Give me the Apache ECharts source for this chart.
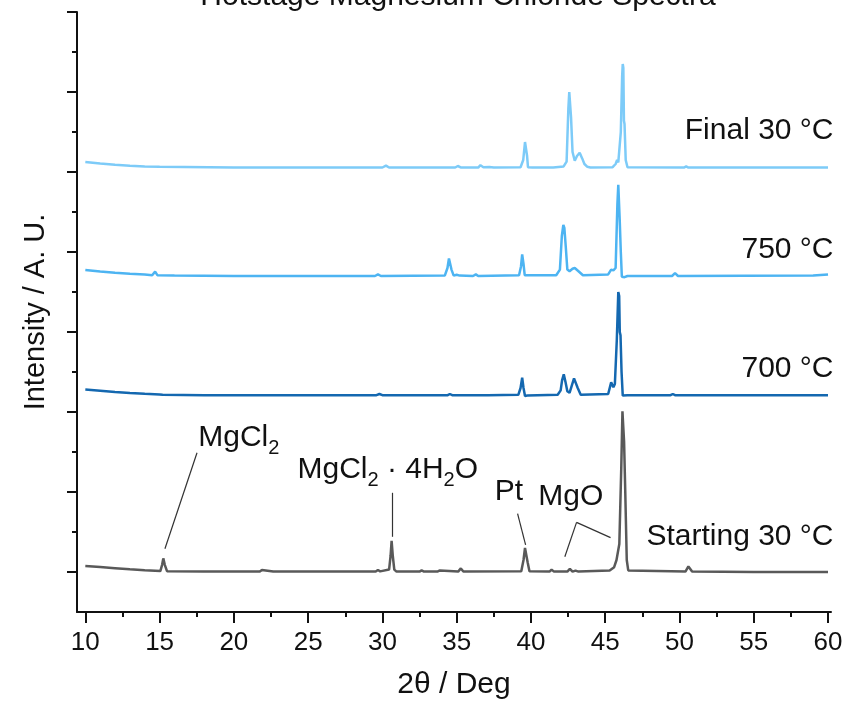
<!DOCTYPE html>
<html>
<head>
<meta charset="utf-8">
<script src="https://cdn.jsdelivr.net/npm/echarts@6/dist/echarts.min.js"></script>
<style>
html,body{margin:0;padding:0;background:#fff;}
#chart{width:849px;height:705px;}
</style>
</head>
<body>
<div id="chart"></div>
<script>
// ---- data (x = 2θ in degrees, y = offset intensity in arbitrary units) ----
var titleText = 'Hotstage Magnesium Chloride Spectra';
var xName = '2θ / Deg';
var yName = 'Intensity / A. U.';
var seriesNames = ['Starting 30 °C', '700 °C', '750 °C', 'Final 30 °C'];
var seriesColors = ['#595959', '#1468b0', '#4db4f2', '#7dcbf8'];

var xMajorTicks = [10, 15, 20, 25, 30, 35, 40, 45, 50, 55, 60];
var xMinorTicks = [12.5, 17.5, 22.5, 27.5, 32.5, 37.5, 42.5, 47.5, 52.5, 57.5];
var yMajorTicks = [0, 1, 2, 3, 4, 5, 6, 7];
var yMinorTicks = [0.5, 1.5, 2.5, 3.5, 4.5, 5.5, 6.5];

var startingData = [
  [10,0.075],[11,0.062],[12,0.048],[13,0.034],[14,0.022],[15.05,0.012],[15.17,0.09],[15.25,0.17],[15.35,0.09],[15.5,0.01],
  [18,0.005],[21.75,0.005],[21.89,0.025],[22.0,0.005],[22.65,0.005],[22.76,0.02],[22.9,0.005],
  [29.55,0.005],[29.7,0.025],[29.85,0.008],[30.45,0.03],[30.55,0.2],[30.62,0.39],[30.7,0.2],[30.8,0.03],[30.95,0.005],
  [32.5,0.005],[32.64,0.02],[32.8,0.005],[33.7,0.005],[33.87,0.02],[34.0,0.005],
  [35.1,0.005],[35.28,0.045],[35.45,0.005],
  [39.35,0.01],[39.5,0.15],[39.6,0.3],[39.68,0.31],[39.78,0.12],[39.9,0.01],
  [41.25,0.005],[41.39,0.03],[41.55,0.005],[42.45,0.005],[42.62,0.04],[42.8,0.005],[43.0,0.018],[43.2,0.005],
  [45.3,0.02],[45.6,0.06],[45.76,0.15],[45.95,0.35],[46.08,1.3],[46.16,2.01],[46.22,1.8],[46.27,1.63],[46.35,1.0],[46.45,0.15],[46.55,0.02],
  [50.4,0.005],[50.6,0.07],[50.85,0.005],[55,0.0],[60,0.0]
];

var data700 = [
  [10,2.28],[11,2.265],[12,2.25],[13,2.238],[14,2.228],[15.0,2.22],[15.1,2.235],[15.2,2.215],[18,2.21],
  [29.6,2.21],[29.8,2.225],[30.0,2.21],[34.4,2.21],[34.54,2.225],[34.7,2.21],
  [36.2,2.21],[36.29,2.22],[36.45,2.21],[36.85,2.21],[36.96,2.225],[37.1,2.21],
  [39.15,2.215],[39.3,2.3],[39.41,2.43],[39.5,2.3],[39.6,2.2],[39.75,2.205],
  [41.8,2.215],[42.0,2.27],[42.1,2.4],[42.21,2.47],[42.32,2.38],[42.45,2.26],[42.6,2.24],[42.75,2.33],[42.9,2.42],[43.0,2.41],[43.15,2.3],[43.35,2.215],
  [45.2,2.225],[45.4,2.37],[45.55,2.31],[45.65,2.35],[45.78,2.9],[45.88,3.5],[45.94,3.45],[45.98,3.0],[46.03,2.96],[46.1,2.5],[46.18,2.205],[46.3,2.2],[46.5,2.21],
  [49.4,2.21],[49.55,2.225],[49.7,2.21],[60,2.21]
];

var data750 = [
  [10,3.775],[11,3.755],[12,3.74],[13,3.728],[14,3.72],[14.5,3.71],[14.7,3.755],[14.85,3.71],[16,3.705],[20,3.7],
  [29.5,3.7],[29.7,3.72],[29.9,3.7],
  [34.2,3.705],[34.38,3.8],[34.48,3.92],[34.55,3.9],[34.65,3.78],[34.8,3.705],[35.0,3.715],[35.08,3.72],[35.2,3.705],
  [36.1,3.7],[36.29,3.72],[36.45,3.7],
  [39.2,3.71],[39.33,3.82],[39.41,3.97],[39.5,3.85],[39.58,3.71],[39.7,3.69],
  [41.7,3.71],[41.95,3.78],[42.08,4.2],[42.18,4.34],[42.25,4.3],[42.35,4.05],[42.45,3.78],[42.6,3.76],[42.8,3.79],[42.95,3.8],[43.2,3.76],[43.5,3.71],
  [45.2,3.72],[45.4,3.78],[45.55,3.77],[45.7,3.8],[45.82,4.6],[45.88,4.84],[45.93,4.82],[45.98,4.38],[46.05,4.0],[46.12,3.69],[46.3,3.685],[46.5,3.7],
  [49.5,3.7],[49.7,3.735],[49.9,3.7],[59.0,3.705],[60,3.72]
];

var finalData = [
  [10,5.125],[11,5.105],[12,5.09],[13,5.078],[14,5.07],[15,5.065],[20,5.056],[30.0,5.056],[30.24,5.08],[30.45,5.056],
  [34.9,5.056],[35.08,5.075],[35.3,5.056],[36.45,5.056],[36.6,5.085],[36.8,5.06],[37.2,5.062],[37.5,5.056],
  [39.3,5.06],[39.48,5.15],[39.6,5.375],[39.66,5.36],[39.74,5.2],[39.8,5.06],[39.9,5.045],[40.1,5.056],
  [41.5,5.056],[42.2,5.07],[42.4,5.13],[42.52,5.8],[42.58,6.0],[42.64,5.98],[42.7,5.68],[42.8,5.25],[42.95,5.14],[43.1,5.2],[43.28,5.24],[43.45,5.17],[43.6,5.1],[43.8,5.065],[44,5.056],
  [45.5,5.06],[45.7,5.1],[45.8,5.15],[45.88,5.12],[46.05,5.5],[46.14,6.2],[46.18,6.35],[46.22,6.3],[46.26,5.64],[46.3,5.6],[46.38,5.15],[46.5,5.06],
  [50.3,5.056],[50.45,5.07],[50.6,5.056],[55,5.056],[60,5.056]
];

// annotation connectors (data coordinates)
var annotationLines = [
  [[15.36, 0.29], [17.52, 1.49]],   // MgCl2
  [[30.63, 0.44], [30.63, 0.99]],   // MgCl2·4H2O
  [[39.64, 0.34], [39.10, 0.73]],   // Pt
  [[42.28, 0.19], [43.07, 0.62]],   // MgO left
  [[43.07, 0.62], [45.36, 0.43]]    // MgO right
];
// annotation labels: [text (rich), x, y, position]
var annotationLabels = [
  ['{n|MgCl}{s|2}', 17.6, 1.675, 'right'],
  ['{n|MgCl}{s|2}{n| · 4H}{s|2}{n|O}', 30.36, 1.275, 'inside'],
  ['{n|Pt}', 38.51, 1.0, 'inside'],
  ['{n|MgO}', 42.68, 0.94, 'inside']
];
// series name labels: y value of label centre
var seriesLabelY = [0.44, 2.54, 4.025, 5.51];

var FONT = "'Liberation Sans', Arial, sans-serif";
var chart = echarts.init(document.getElementById('chart'), null, {renderer: 'canvas'});

var allData = [startingData, data700, data750, finalData];

var series = allData.map(function (d, i) {
  return {
    name: seriesNames[i],
    type: 'line',
    data: d,
    showSymbol: false,
    symbol: 'none',
    lineStyle: {color: seriesColors[i], width: 2.5},
    z: 3 + i
  };
});

var richStyle = {
  n: {fontSize: 30, fontFamily: FONT, color: '#111', lineHeight: 40},
  s: {fontSize: 20, fontFamily: FONT, color: '#111', lineHeight: 20, verticalAlign: 'bottom'}
};

series[0].markLine = {
  silent: true,
  symbol: ['none', 'none'],
  label: {show: false},
  lineStyle: {color: '#333', width: 1.2, type: 'solid'},
  data: annotationLines.map(function (l) {
    return [{coord: l[0]}, {coord: l[1]}];
  })
};
series[0].markPoint = {
  silent: true,
  symbol: 'circle',
  symbolSize: 0,
  data: annotationLabels.map(function (a) {
    return {
      coord: [a[1], a[2]],
      label: {show: true, position: a[3], distance: 0, formatter: a[0], rich: richStyle}
    };
  })
};

series.forEach(function (s, i) {
  var item = {
    coord: [60.1, seriesLabelY[i]],
    label: {show: true, position: 'left', distance: 0, offset: [4, 0], formatter: '{n|' + seriesNames[i] + '}', rich: richStyle}
  };
  if (i === 0) {
    s.markPoint.data.push(item);
  } else {
    s.markPoint = {silent: true, symbol: 'circle', symbolSize: 0, data: [item]};
  }
});

var option = {
  animation: false,
  backgroundColor: '#fff',
  textStyle: {fontFamily: FONT},
  grid: {left: 77, right: 18, top: 12, bottom: 93, containLabel: false},
  graphic: [{
    type: 'text',
    x: 458, y: -3,
    style: {text: titleText, font: '30px ' + FONT, fill: '#111', textAlign: 'center', textVerticalAlign: 'middle'}
  }],
  xAxis: [{
    type: 'value', min: 9.44, max: 60.2,
    name: xName, nameLocation: 'middle', nameGap: 58,
    nameTextStyle: {fontSize: 30, color: '#111', fontFamily: FONT},
    axisLine: {show: true, onZero: false, lineStyle: {color: '#111', width: 2}},
    axisTick: {show: true, customValues: xMajorTicks, length: 11, lineStyle: {color: '#111', width: 2}},
    axisLabel: {show: true, customValues: xMajorTicks, margin: 18, fontSize: 26, color: '#111', fontFamily: FONT},
    splitLine: {show: false}
  }, {
    type: 'value', min: 9.44, max: 60.2, position: 'bottom',
    axisLine: {show: false, onZero: false},
    axisTick: {show: true, customValues: xMinorTicks, length: 5, lineStyle: {color: '#111', width: 2}},
    axisLabel: {show: false},
    splitLine: {show: false}
  }],
  yAxis: [{
    type: 'value', min: -0.5, max: 7, position: 'left',
    name: yName, nameLocation: 'middle', nameGap: 27,
    nameTextStyle: {fontSize: 29, color: '#111', fontFamily: FONT},
    axisLine: {show: true, onZero: false, lineStyle: {color: '#111', width: 2}},
    axisTick: {show: true, customValues: yMajorTicks, length: 10, lineStyle: {color: '#111', width: 2}},
    axisLabel: {show: false},
    splitLine: {show: false}
  }, {
    type: 'value', min: -0.5, max: 7, position: 'left',
    axisLine: {show: false, onZero: false},
    axisTick: {show: true, customValues: yMinorTicks, length: 5, lineStyle: {color: '#111', width: 2}},
    axisLabel: {show: false},
    splitLine: {show: false}
  }],
  series: series
};
chart.setOption(option);
</script>
</body>
</html>
